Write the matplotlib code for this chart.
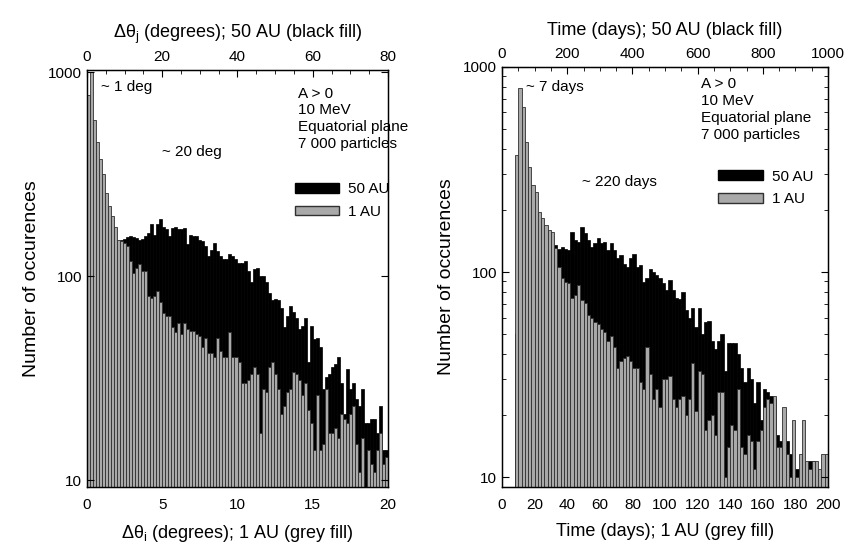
import numpy as np
import matplotlib
matplotlib.use('Agg')
from matplotlib import pyplot as plt
from matplotlib.patches import Patch
from matplotlib.ticker import MultipleLocator, LogLocator, NullFormatter

plt.rcParams['font.family'] = ['Liberation Sans', 'DejaVu Sans']
plt.rcParams['mathtext.fontset'] = 'custom'
plt.rcParams['mathtext.rm'] = 'Liberation Sans'
plt.rcParams['mathtext.it'] = 'Liberation Sans:italic'

# left panel: angular spread, 1 AU (0-20 deg, 0.2 deg bins)
deg_1au = [770, 1000, 580, 455, 375, 318, 255, 220, 197, 175,
           150, 148, 146, 140, 118, 104, 110, 115, 106, 106,
           80, 78, 80, 85, 75, 66, 64, 64, 56, 53,
           59, 52, 59, 55, 54, 54, 52, 51, 45, 50,
           42, 42, 40, 50, 43, 40, 40, 53, 40, 40,
           38, 30, 30, 31, 33, 36, 33, 17, 28, 27,
           36, 38, 33, 28, 21, 23, 27, 28, 34, 33,
           31, 26, 30, 22, 19, 14, 26, 14, 15, 28,
           17, 17, 18, 16, 21, 20, 19, 21, 23, 15,
           11, 16, 9, 14, 12, 11, 14, 17, 12, 13]

# left panel: angular spread, 50 AU (0-80 deg, 0.8 deg bins)
deg_50au = [20, 40, 60, 80, 95, 105, 115, 125, 130, 135,
            140, 150, 152, 155, 157, 155, 153, 150, 152, 158,
            162, 180, 160, 181, 190, 175, 170, 157, 172, 175,
            170, 170, 172, 144, 160, 157, 157, 150, 148, 140,
            125, 135, 145, 133, 125, 122, 122, 128, 125, 121,
            116, 116, 118, 106, 94, 108, 110, 100, 100, 94,
            83, 76, 77, 76, 70, 56, 64, 71, 67, 62,
            55, 57, 62, 38, 57, 49, 50, 45, 28, 32,
            33, 36, 37, 40, 30, 21, 35, 28, 30, 25,
            23, 28, 19, 19, 20, 20, 17, 23, 14, 14]

# right panel: travel time, 1 AU (0-200 days, 2 day bins)
days_1au = [0, 0, 0, 0, 372, 790, 638, 431, 325, 266,
            245, 196, 184, 169, 160, 157, 131, 106, 94, 89,
            88, 75, 77, 86, 73, 71, 62, 60, 57, 56,
            53, 51, 46, 49, 43, 34, 37, 38, 39, 37,
            34, 34, 29, 27, 43, 32, 24, 27, 22, 30,
            30, 31, 24, 22, 24, 25, 20, 24, 36, 21,
            33, 32, 17, 19, 20, 16, 26, 26, 10, 14,
            18, 17, 27, 14, 13, 16, 15, 11, 15, 17,
            22, 24, 23, 25, 14, 14, 22, 13, 10, 19,
            10, 13, 19, 12, 11, 12, 12, 11, 13, 13]

# right panel: travel time, 50 AU (0-1000 days, 10 day bins)
days_50au = [0, 0, 0, 0, 50, 80, 90, 100, 110, 115,
             120, 120, 125, 125, 128, 130, 135, 130, 132, 130,
             128, 157, 143, 140, 165, 155, 143, 133, 139, 146,
             139, 140, 128, 139, 128, 117, 121, 110, 106, 117,
             123, 106, 108, 89, 94, 104, 100, 97, 94, 88,
             82, 91, 82, 75, 74, 80, 65, 60, 67, 54,
             67, 50, 57, 58, 46, 42, 46, 50, 33, 45,
             45, 45, 40, 34, 29, 34, 30, 23, 29, 19,
             27, 26, 25, 24, 16, 15, 15, 15, 13, 10,
             11, 0, 0, 0, 12, 12, 0, 0, 0, 0]

grey = '#a9a9a9'
fs_tick = 11
fs_lab = 13


def panel(rect, grey_vals, grey_w, black_vals, black_w, xmax_bot, xmax_top,
          ylim, xlab_bot, xlab_top, bot_step, top_step, top_minor, ymin_ticks):
    ax = fig.add_axes(rect)
    ax2 = ax.twiny()
    ax.set_zorder(ax2.get_zorder() + 1)
    ax.patch.set_visible(False)

    edges_b = np.arange(len(black_vals)) * black_w
    ax2.bar(edges_b, black_vals, width=black_w, align='edge',
            color='black', edgecolor='black', linewidth=0.5)
    edges_g = np.arange(len(grey_vals)) * grey_w
    ax.bar(edges_g, grey_vals, width=grey_w, align='edge',
           color=grey, edgecolor='#303030', linewidth=0.6)

    ax.set_yscale('log')
    ax.set_ylim(*ylim)
    ax.set_xlim(0, xmax_bot)
    ax2.set_xlim(0, xmax_top)
    ax.set_yticks([10, 100, 1000])
    ax.set_yticklabels(['10', '100', '1000'])
    if ymin_ticks:
        ax.yaxis.set_minor_locator(LogLocator(base=10, subs=np.arange(2, 10)))
    else:
        ax.yaxis.set_minor_locator(plt.NullLocator())
    ax.yaxis.set_minor_formatter(NullFormatter())
    ax.xaxis.set_major_locator(MultipleLocator(bot_step))
    ax2.xaxis.set_major_locator(MultipleLocator(top_step))
    ax2.xaxis.set_minor_locator(MultipleLocator(top_minor))

    ax.tick_params(axis='both', which='both', direction='in', labelsize=fs_tick,
                   right=True, top=False)
    ax.tick_params(axis='y', which='major', length=5)
    ax.tick_params(axis='y', which='minor', length=3)
    ax.tick_params(axis='x', which='major', length=0, pad=8)
    ax2.tick_params(axis='x', which='both', direction='in', labelsize=fs_tick, pad=4)
    ax2.tick_params(axis='x', which='major', length=5)
    ax2.tick_params(axis='x', which='minor', length=3)

    ax.set_xlabel(xlab_bot, fontsize=fs_lab, labelpad=8)
    ax2.set_xlabel(xlab_top, fontsize=fs_lab, labelpad=9)
    ax.set_ylabel('Number of occurences', fontsize=fs_lab + 1, labelpad=6)
    for sp in ax.spines.values():
        sp.set_linewidth(1.0)
    return ax, ax2


fig = plt.figure(figsize=(8.5, 5.5), dpi=100)

axL, axL2 = panel([87 / 850, 63 / 550, 301 / 850, 417 / 550], deg_1au, 0.2, deg_50au, 0.8,
                  20, 80, (9.25, 1025),
                  r'Δθ$_{\rm i}$ (degrees); 1 AU (grey fill)',
                  r'Δθ$_{\rm j}$ (degrees); 50 AU (black fill)',
                  5, 20, 5, False)
axR, axR2 = panel([502 / 850, 63 / 550, 326 / 850, 420 / 550], days_1au, 2, days_50au, 10,
                  200, 1000, (8.95, 1000),
                  'Time (days); 1 AU (grey fill)',
                  'Time (days); 50 AU (black fill)',
                  20, 200, 50, True)

info = 'A > 0\n10 MeV\nEquatorial plane\n7 000 particles'
handles = [Patch(facecolor='black', edgecolor='black', label='50 AU'),
           Patch(facecolor=grey, edgecolor='#303030', label='1 AU')]
leg_kw = dict(loc='upper left', frameon=False, fontsize=11, handlelength=2.9,
              handleheight=0.6, labelspacing=0.55, handletextpad=0.6, borderaxespad=0)

axL.text(0.7, 0.96, info, transform=axL.transAxes, fontsize=11, va='top', linespacing=1.25)
axL.text(0.045, 0.975, '~ 1 deg', transform=axL.transAxes, fontsize=11, va='top')
axL.text(0.25, 0.82, '~ 20 deg', transform=axL.transAxes, fontsize=11, va='top')
axL.legend(handles=handles, bbox_to_anchor=(0.67, 0.745), **leg_kw)

axR.text(0.61, 0.975, info, transform=axR.transAxes, fontsize=11, va='top', linespacing=1.25)
axR.text(0.075, 0.968, '~ 7 days', transform=axR.transAxes, fontsize=11, va='top')
axR.text(0.245, 0.742, '~ 220 days', transform=axR.transAxes, fontsize=11, va='top')
axR.legend(handles=handles, bbox_to_anchor=(0.645, 0.77), **leg_kw)

fig.savefig('out.png', dpi=100)
